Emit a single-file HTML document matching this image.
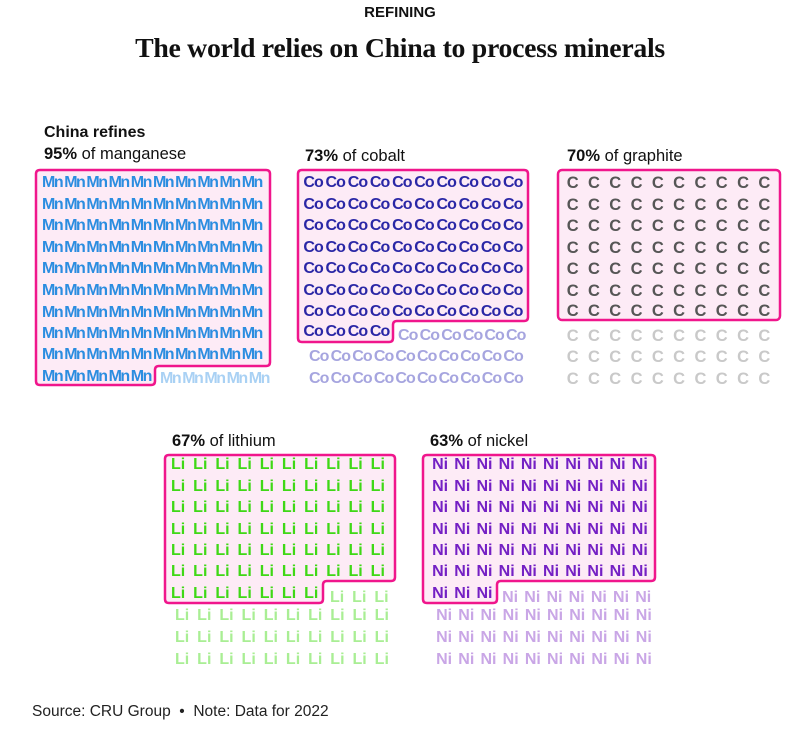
<!DOCTYPE html>
<html><head><meta charset="utf-8"><style>
body{margin:0;width:800px;height:747px;background:#fff;position:relative;font-family:"Liberation Sans",sans-serif;overflow:hidden}
.a{position:absolute}
.r{position:absolute;display:flex;height:20px;line-height:20px;font-weight:bold;font-size:16px}
.r span{display:block;text-align:center;flex:none}
.mn span{width:22.2px;letter-spacing:-1.5px;color:#2b8de0}
.mn.l span{color:#a9d1f4}
.co span{width:22.2px;letter-spacing:-0.9px;color:#2a27a6}
.co.l span{color:#a6a5df;width:21.6px}
.c span{width:21.3px;color:#565656;font-size:16.5px}
.c.l span{color:#c9c9c9}
.li span{width:22.2px;color:#3fd816}
.li.l span{color:#a9ee94}
.ni span{width:22.2px;color:#7420c4}
.ni.l span{color:#c9a6e6}
.lab{position:absolute;font-size:16.5px;color:#111}
</style></head><body>
<svg class="a" style="left:0;top:0" width="800" height="747">
<g fill="#fdebf6" stroke="#f0168c" stroke-width="2.5" stroke-linejoin="round">
<path d="M40,170 H266 Q270,170 270,174 V362 Q270,366 266,366 H159 Q155,366 155,370 V381 Q155,385 151,385 H40 Q36,385 36,381 V174 Q36,170 40,170Z"/>
<path d="M302,170 H524 Q528,170 528,174 V317 Q528,321 524,321 H397 Q393,321 393,325 V338 Q393,342 389,342 H302 Q298,342 298,338 V174 Q298,170 302,170Z"/>
<rect x="558" y="170" width="222" height="150" rx="4"/>
<path d="M169,455 H391 Q395,455 395,459 V577 Q395,581 391,581 H327 Q323,581 323,585 V599 Q323,603 319,603 H169 Q165,603 165,599 V459 Q165,455 169,455Z"/>
<path d="M427,455 H651 Q655,455 655,459 V577 Q655,581 651,581 H501 Q497,581 497,585 V599 Q497,603 493,603 H427 Q423,603 423,599 V459 Q423,455 427,455Z"/>
</g></svg>
<div class="a" style="left:0;width:800px;top:4px;text-align:center;font-weight:bold;font-size:15px;color:#111">REFINING</div>
<div class="a" style="left:0;width:800px;top:33px;text-align:center;font-family:'Liberation Serif',serif;font-weight:bold;font-size:27.8px;color:#111;letter-spacing:-0.3px">The world relies on China to process minerals</div>
<div class="lab" style="left:44px;top:124px;font-weight:bold;font-size:16px">China refines</div>
<div class="lab" style="left:44px;top:145px"><b>95%</b> of manganese</div>
<div class="lab" style="left:305px;top:147px"><b>73%</b> of cobalt</div>
<div class="lab" style="left:567px;top:147px"><b>70%</b> of graphite</div>
<div class="lab" style="left:172px;top:432px"><b>67%</b> of lithium</div>
<div class="lab" style="left:430px;top:432px"><b>63%</b> of nickel</div>

<div class="r mn" style="left:41px;top:173px"><span>Mn</span><span>Mn</span><span>Mn</span><span>Mn</span><span>Mn</span><span>Mn</span><span>Mn</span><span>Mn</span><span>Mn</span><span>Mn</span></div>
<div class="r mn" style="left:41px;top:194.6px"><span>Mn</span><span>Mn</span><span>Mn</span><span>Mn</span><span>Mn</span><span>Mn</span><span>Mn</span><span>Mn</span><span>Mn</span><span>Mn</span></div>
<div class="r mn" style="left:41px;top:216.2px"><span>Mn</span><span>Mn</span><span>Mn</span><span>Mn</span><span>Mn</span><span>Mn</span><span>Mn</span><span>Mn</span><span>Mn</span><span>Mn</span></div>
<div class="r mn" style="left:41px;top:237.8px"><span>Mn</span><span>Mn</span><span>Mn</span><span>Mn</span><span>Mn</span><span>Mn</span><span>Mn</span><span>Mn</span><span>Mn</span><span>Mn</span></div>
<div class="r mn" style="left:41px;top:259.4px"><span>Mn</span><span>Mn</span><span>Mn</span><span>Mn</span><span>Mn</span><span>Mn</span><span>Mn</span><span>Mn</span><span>Mn</span><span>Mn</span></div>
<div class="r mn" style="left:41px;top:281px"><span>Mn</span><span>Mn</span><span>Mn</span><span>Mn</span><span>Mn</span><span>Mn</span><span>Mn</span><span>Mn</span><span>Mn</span><span>Mn</span></div>
<div class="r mn" style="left:41px;top:302.6px"><span>Mn</span><span>Mn</span><span>Mn</span><span>Mn</span><span>Mn</span><span>Mn</span><span>Mn</span><span>Mn</span><span>Mn</span><span>Mn</span></div>
<div class="r mn" style="left:41px;top:324.2px"><span>Mn</span><span>Mn</span><span>Mn</span><span>Mn</span><span>Mn</span><span>Mn</span><span>Mn</span><span>Mn</span><span>Mn</span><span>Mn</span></div>
<div class="r mn" style="left:41px;top:344.8px"><span>Mn</span><span>Mn</span><span>Mn</span><span>Mn</span><span>Mn</span><span>Mn</span><span>Mn</span><span>Mn</span><span>Mn</span><span>Mn</span></div>
<div class="r mn" style="left:41px;top:367px"><span>Mn</span><span>Mn</span><span>Mn</span><span>Mn</span><span>Mn</span></div>
<div class="r mn l" style="left:159px;top:369px"><span>Mn</span><span>Mn</span><span>Mn</span><span>Mn</span><span>Mn</span></div>

<div class="r co" style="left:302px;top:173px"><span>Co</span><span>Co</span><span>Co</span><span>Co</span><span>Co</span><span>Co</span><span>Co</span><span>Co</span><span>Co</span><span>Co</span></div>
<div class="r co" style="left:302px;top:194.6px"><span>Co</span><span>Co</span><span>Co</span><span>Co</span><span>Co</span><span>Co</span><span>Co</span><span>Co</span><span>Co</span><span>Co</span></div>
<div class="r co" style="left:302px;top:216.2px"><span>Co</span><span>Co</span><span>Co</span><span>Co</span><span>Co</span><span>Co</span><span>Co</span><span>Co</span><span>Co</span><span>Co</span></div>
<div class="r co" style="left:302px;top:237.8px"><span>Co</span><span>Co</span><span>Co</span><span>Co</span><span>Co</span><span>Co</span><span>Co</span><span>Co</span><span>Co</span><span>Co</span></div>
<div class="r co" style="left:302px;top:259.4px"><span>Co</span><span>Co</span><span>Co</span><span>Co</span><span>Co</span><span>Co</span><span>Co</span><span>Co</span><span>Co</span><span>Co</span></div>
<div class="r co" style="left:302px;top:281px"><span>Co</span><span>Co</span><span>Co</span><span>Co</span><span>Co</span><span>Co</span><span>Co</span><span>Co</span><span>Co</span><span>Co</span></div>
<div class="r co" style="left:302px;top:301.6px"><span>Co</span><span>Co</span><span>Co</span><span>Co</span><span>Co</span><span>Co</span><span>Co</span><span>Co</span><span>Co</span><span>Co</span></div>
<div class="r co" style="left:302px;top:322.2px"><span>Co</span><span>Co</span><span>Co</span><span>Co</span></div>
<div class="r co l" style="left:397px;top:326px"><span>Co</span><span>Co</span><span>Co</span><span>Co</span><span>Co</span><span>Co</span></div>
<div class="r co l" style="left:308px;top:347px"><span>Co</span><span>Co</span><span>Co</span><span>Co</span><span>Co</span><span>Co</span><span>Co</span><span>Co</span><span>Co</span><span>Co</span></div>
<div class="r co l" style="left:308px;top:369px"><span>Co</span><span>Co</span><span>Co</span><span>Co</span><span>Co</span><span>Co</span><span>Co</span><span>Co</span><span>Co</span><span>Co</span></div>

<div class="r c" style="left:562px;top:173px"><span>C</span><span>C</span><span>C</span><span>C</span><span>C</span><span>C</span><span>C</span><span>C</span><span>C</span><span>C</span></div>
<div class="r c" style="left:562px;top:194.6px"><span>C</span><span>C</span><span>C</span><span>C</span><span>C</span><span>C</span><span>C</span><span>C</span><span>C</span><span>C</span></div>
<div class="r c" style="left:562px;top:216.2px"><span>C</span><span>C</span><span>C</span><span>C</span><span>C</span><span>C</span><span>C</span><span>C</span><span>C</span><span>C</span></div>
<div class="r c" style="left:562px;top:237.8px"><span>C</span><span>C</span><span>C</span><span>C</span><span>C</span><span>C</span><span>C</span><span>C</span><span>C</span><span>C</span></div>
<div class="r c" style="left:562px;top:259.4px"><span>C</span><span>C</span><span>C</span><span>C</span><span>C</span><span>C</span><span>C</span><span>C</span><span>C</span><span>C</span></div>
<div class="r c" style="left:562px;top:281px"><span>C</span><span>C</span><span>C</span><span>C</span><span>C</span><span>C</span><span>C</span><span>C</span><span>C</span><span>C</span></div>
<div class="r c" style="left:562px;top:300.6px"><span>C</span><span>C</span><span>C</span><span>C</span><span>C</span><span>C</span><span>C</span><span>C</span><span>C</span><span>C</span></div>
<div class="r c l" style="left:562px;top:326px"><span>C</span><span>C</span><span>C</span><span>C</span><span>C</span><span>C</span><span>C</span><span>C</span><span>C</span><span>C</span></div>
<div class="r c l" style="left:562px;top:347px"><span>C</span><span>C</span><span>C</span><span>C</span><span>C</span><span>C</span><span>C</span><span>C</span><span>C</span><span>C</span></div>
<div class="r c l" style="left:562px;top:369px"><span>C</span><span>C</span><span>C</span><span>C</span><span>C</span><span>C</span><span>C</span><span>C</span><span>C</span><span>C</span></div>

<div class="r li" style="left:167px;top:455px"><span>Li</span><span>Li</span><span>Li</span><span>Li</span><span>Li</span><span>Li</span><span>Li</span><span>Li</span><span>Li</span><span>Li</span></div>
<div class="r li" style="left:167px;top:476.6px"><span>Li</span><span>Li</span><span>Li</span><span>Li</span><span>Li</span><span>Li</span><span>Li</span><span>Li</span><span>Li</span><span>Li</span></div>
<div class="r li" style="left:167px;top:498.2px"><span>Li</span><span>Li</span><span>Li</span><span>Li</span><span>Li</span><span>Li</span><span>Li</span><span>Li</span><span>Li</span><span>Li</span></div>
<div class="r li" style="left:167px;top:519.8px"><span>Li</span><span>Li</span><span>Li</span><span>Li</span><span>Li</span><span>Li</span><span>Li</span><span>Li</span><span>Li</span><span>Li</span></div>
<div class="r li" style="left:167px;top:541.4px"><span>Li</span><span>Li</span><span>Li</span><span>Li</span><span>Li</span><span>Li</span><span>Li</span><span>Li</span><span>Li</span><span>Li</span></div>
<div class="r li" style="left:167px;top:562px"><span>Li</span><span>Li</span><span>Li</span><span>Li</span><span>Li</span><span>Li</span><span>Li</span><span>Li</span><span>Li</span><span>Li</span></div>
<div class="r li" style="left:167px;top:584px"><span>Li</span><span>Li</span><span>Li</span><span>Li</span><span>Li</span><span>Li</span><span>Li</span></div>
<div class="r li l" style="left:326px;top:588px"><span>Li</span><span>Li</span><span>Li</span></div>
<div class="r li l" style="left:171px;top:606px"><span>Li</span><span>Li</span><span>Li</span><span>Li</span><span>Li</span><span>Li</span><span>Li</span><span>Li</span><span>Li</span><span>Li</span></div>
<div class="r li l" style="left:171px;top:628px"><span>Li</span><span>Li</span><span>Li</span><span>Li</span><span>Li</span><span>Li</span><span>Li</span><span>Li</span><span>Li</span><span>Li</span></div>
<div class="r li l" style="left:171px;top:650px"><span>Li</span><span>Li</span><span>Li</span><span>Li</span><span>Li</span><span>Li</span><span>Li</span><span>Li</span><span>Li</span><span>Li</span></div>

<div class="r ni" style="left:429px;top:455px"><span>Ni</span><span>Ni</span><span>Ni</span><span>Ni</span><span>Ni</span><span>Ni</span><span>Ni</span><span>Ni</span><span>Ni</span><span>Ni</span></div>
<div class="r ni" style="left:429px;top:476.6px"><span>Ni</span><span>Ni</span><span>Ni</span><span>Ni</span><span>Ni</span><span>Ni</span><span>Ni</span><span>Ni</span><span>Ni</span><span>Ni</span></div>
<div class="r ni" style="left:429px;top:498.2px"><span>Ni</span><span>Ni</span><span>Ni</span><span>Ni</span><span>Ni</span><span>Ni</span><span>Ni</span><span>Ni</span><span>Ni</span><span>Ni</span></div>
<div class="r ni" style="left:429px;top:519.8px"><span>Ni</span><span>Ni</span><span>Ni</span><span>Ni</span><span>Ni</span><span>Ni</span><span>Ni</span><span>Ni</span><span>Ni</span><span>Ni</span></div>
<div class="r ni" style="left:429px;top:541.4px"><span>Ni</span><span>Ni</span><span>Ni</span><span>Ni</span><span>Ni</span><span>Ni</span><span>Ni</span><span>Ni</span><span>Ni</span><span>Ni</span></div>
<div class="r ni" style="left:429px;top:562px"><span>Ni</span><span>Ni</span><span>Ni</span><span>Ni</span><span>Ni</span><span>Ni</span><span>Ni</span><span>Ni</span><span>Ni</span><span>Ni</span></div>
<div class="r ni" style="left:429px;top:584px"><span>Ni</span><span>Ni</span><span>Ni</span></div>
<div class="r ni l" style="left:499px;top:588px"><span>Ni</span><span>Ni</span><span>Ni</span><span>Ni</span><span>Ni</span><span>Ni</span><span>Ni</span></div>
<div class="r ni l" style="left:433px;top:606px"><span>Ni</span><span>Ni</span><span>Ni</span><span>Ni</span><span>Ni</span><span>Ni</span><span>Ni</span><span>Ni</span><span>Ni</span><span>Ni</span></div>
<div class="r ni l" style="left:433px;top:628px"><span>Ni</span><span>Ni</span><span>Ni</span><span>Ni</span><span>Ni</span><span>Ni</span><span>Ni</span><span>Ni</span><span>Ni</span><span>Ni</span></div>
<div class="r ni l" style="left:433px;top:650px"><span>Ni</span><span>Ni</span><span>Ni</span><span>Ni</span><span>Ni</span><span>Ni</span><span>Ni</span><span>Ni</span><span>Ni</span><span>Ni</span></div>

<div class="a" style="left:32px;top:703px;font-size:15.5px;color:#222">Source: CRU Group &nbsp;•&nbsp; Note: Data for 2022</div>
</body></html>
